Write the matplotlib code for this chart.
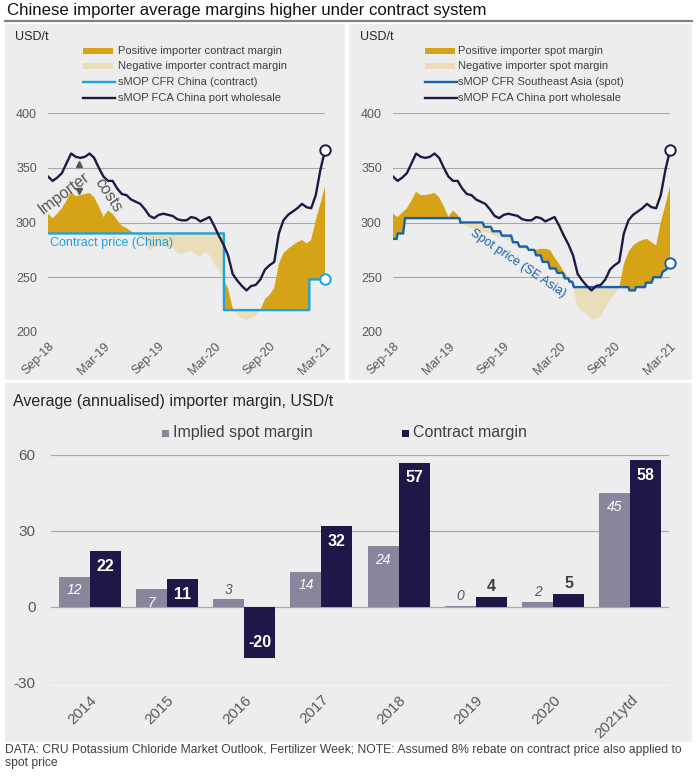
import numpy as np
import matplotlib
matplotlib.use("Agg")
import matplotlib.pyplot as plt
from matplotlib.patches import Rectangle
from matplotlib.lines import Line2D

plt.rcParams['font.family'] = ['Liberation Sans', 'DejaVu Sans']
plt.rcParams['axes.unicode_minus'] = False

# ---------------- data ----------------
# months since Sep-2018, half-monthly readings
month_grid = np.arange(0, 30.5, 0.5)
fca_wholesale = [342, 338, 341, 345, 354, 363, 360, 359, 360, 363, 359, 350, 342, 338, 338, 331,
                 326, 325, 321, 319, 317, 312, 306, 304, 307, 308, 307, 306, 303, 302, 302, 305,
                 304, 301, 303, 305, 297, 288, 280, 270, 253, 247, 242, 238, 242, 243, 248, 257,
                 261, 264, 290, 302, 307, 310, 313, 317, 314, 313, 325, 348, 366]
# wholesale price less importer costs (margin boundary), contract panel
net_contract_panel = [308, 304, 308, 313, 320, 328, 324, 325, 326, 327, 323, 315, 305, 311, 308, 302,
                      297, 295, 292, 289, 287, 284, 274, 277, 279, 280, 276, 277, 272, 271, 273, 274,
                      271, 269, 274, 270, 262, 257, 248, 240, 222, 216, 212, 211, 213, 215, 220, 230,
                      234, 240, 262, 272, 276, 279, 282, 284, 281, 284, 302, 317, 333]
# wholesale price less importer costs, spot panel
net_spot_panel = [308, 305, 309, 313, 320, 328, 325, 325, 326, 327, 323, 315, 305, 311, 307, 300,
                  296, 295, 293, 292, 291, 290, 288, 287, 286, 284, 280, 277, 276, 275, 275, 275,
                  276, 276, 275, 268, 262, 255, 249, 240, 223, 219, 216, 212, 212, 214, 222, 229,
                  235, 240, 262, 273, 279, 282, 284, 285, 282, 279, 300, 316, 333]
contract_months = [0, 19.05, 19.06, 28.3, 28.31, 30]
contract_price = [290, 290, 220, 220, 248, 248]
spot_months = [0, 0.4, 0.5, 1.1, 1.3, 7.2, 7.3, 9.7, 9.9, 10.6, 10.8, 11.6, 11.8, 12.8, 13.0,
               13.5, 13.7, 14.5, 14.7, 15.3, 15.5, 16.0, 16.2, 16.8, 17.0, 17.6, 17.8, 18.4, 18.6,
               19.0, 19.1, 19.4, 19.6, 25.5, 25.6, 26.2, 26.3, 27.3, 27.4, 28.0, 28.2, 29.0, 29.2,
               29.6, 30.0]
spot_price = [285, 285, 290, 290, 304, 304, 300, 300, 296, 296, 292, 292, 288, 288, 282,
              282, 278, 278, 275, 275, 270, 270, 264, 264, 258, 258, 254, 254, 249,
              249, 246, 246, 241, 241, 238, 238, 241, 241, 245, 245, 250, 250, 255,
              257, 263]
date_ticks = [0, 6, 12, 18, 24, 30]
date_labels = ['Sep-18', 'Mar-19', 'Sep-19', 'Mar-20', 'Sep-20', 'Mar-21']
price_ticks = [200, 250, 300, 350, 400]

years = ['2014', '2015', '2016', '2017', '2018', '2019', '2020', '2021ytd']
spot_margin = [12, 7, 3, 14, 24, 0.4, 2, 45]
contract_margin = [22, 11, -20, 32, 57, 4, 5, 58]
margin_ticks = [-30, 0, 30, 60]

# ---------------- styles ----------------
W, H = 698, 778
GOLD = '#D6A317'
TAN = '#EADDBA'
CBLUE = '#1CA3DE'
SBLUE = '#1661AE'
NAVY = '#1D1A47'
BG = '#EDEDED'
GRID = '#A8A8A8'
TXT = '#595959'
LIGHTBAR = '#8A859C'
DARKBAR = '#1E1848'


def fx(px):
    return px / W


def fy(py):
    return 1 - py / H


fig = plt.figure(figsize=(W / 100, H / 100), dpi=100)
fig.patch.set_facecolor('white')

# panel backgrounds
for (x0, y0, x1, y1) in [(5, 24, 345, 380), (349, 24, 692, 380), (5, 383, 692, 742)]:
    fig.add_artist(Rectangle((fx(x0), fy(y1)), (x1 - x0) / W, (y1 - y0) / H,
                             transform=fig.transFigure, facecolor=BG, edgecolor='none', zorder=0))

# title
fig.text(fx(7), fy(10), 'Chinese importer average margins higher under contract system',
         fontsize=12.1, color='#111111', va='center', ha='left')
fig.add_artist(Line2D([fx(5), fx(692)], [fy(20.5), fy(20.5)], transform=fig.transFigure,
                      color='#808080', lw=1.6))

x_fine = np.linspace(0, 30, 3001)


def price_panel(left_px, net, low_m, low_v, low_color, low_end):
    ax = fig.add_axes([fx(left_px), fy(332), 277 / W, 219 / H])
    ax.set_facecolor('none')
    ax.set_xlim(0, 30)
    ax.set_ylim(200, 400)
    for s in ax.spines.values():
        s.set_visible(False)
    ax.set_yticks(price_ticks)
    ax.set_xticks(date_ticks)
    ax.set_xticklabels(date_labels, rotation=45, ha='right', rotation_mode='anchor')
    ax.tick_params(axis='both', length=0, labelsize=9, labelcolor=TXT)
    ax.tick_params(axis='y', pad=8)
    ax.tick_params(axis='x', pad=6)
    ax.grid(axis='y', color=GRID, lw=0.8)
    ax.set_axisbelow(True)
    net_f = np.interp(x_fine, month_grid, net)
    low_f = np.interp(x_fine, low_m, low_v)
    ax.fill_between(x_fine, low_f, net_f, where=net_f >= low_f, interpolate=True,
                    color=GOLD, lw=0, zorder=1)
    ax.fill_between(x_fine, low_f, net_f, where=net_f < low_f, interpolate=True,
                    color=TAN, lw=0, zorder=1)
    ax.plot(low_m, low_v, color=low_color, lw=1.7, zorder=3)
    ax.plot(month_grid, fca_wholesale, color=NAVY, lw=1.7, zorder=4)
    ax.plot([month_grid[-1]], [fca_wholesale[-1]], 'o', ms=7.5, mfc='white', mec=NAVY,
            mew=1.4, zorder=6, clip_on=False)
    ax.plot([low_m[-1]], [low_end], 'o', ms=7.5, mfc='white', mec=low_color,
            mew=1.4, zorder=6, clip_on=False)
    return ax


ax1 = price_panel(48, net_contract_panel, contract_months, contract_price, CBLUE, contract_price[-1])
ax2 = price_panel(393, net_spot_panel, spot_months, spot_price, SBLUE, spot_price[-1])

# annotations left
ax1.text(0.2, 281, 'Contract price (China)', color=CBLUE, fontsize=9, ha='left', va='center', zorder=5)
ax1.text(1.75, 327, 'Importer', color='#555555', fontsize=11.5, rotation=37,
         ha='center', va='center', zorder=5)
ax1.text(6.5, 325, 'costs', color='#555555', fontsize=11.5, rotation=-57,
         ha='center', va='center', zorder=5)
ax1.plot([3.39], [353.5], marker='^', ms=5, color='#555555', zorder=5)
ax1.plot([3.39], [329], marker='v', ms=5, color='#555555', zorder=5)
# annotation right
ax2.text(13.5, 262.7, 'Spot price (SE Asia)', color=SBLUE, fontsize=9, rotation=-34,
         ha='center', va='center', zorder=5)

# USD/t labels
fig.text(fx(15), fy(37), 'USD/t', fontsize=9, color='#262626', va='center')
fig.text(fx(360), fy(37), 'USD/t', fontsize=9, color='#262626', va='center')


def legend_block(hx0, hx1, tx, items):
    rows = [51, 66, 82, 98]
    for (kind, color, label), ry in zip(items, rows):
        if kind == 'patch':
            fig.add_artist(Rectangle((fx(hx0), fy(ry + 2.8)), (hx1 - hx0) / W, 5.6 / H,
                                     transform=fig.transFigure, facecolor=color,
                                     edgecolor='none', zorder=3))
        else:
            fig.add_artist(Line2D([fx(hx0), fx(hx1 + 2)], [fy(ry), fy(ry)],
                                  transform=fig.transFigure, color=color, lw=1.7, zorder=3))
        fig.text(fx(tx), fy(ry), label, fontsize=8, color='#404040', va='center', ha='left')


legend_block(83, 113, 118, [('patch', GOLD, 'Positive importer contract margin'),
                            ('patch', TAN, 'Negative importer contract margin'),
                            ('line', CBLUE, 'sMOP CFR China (contract)'),
                            ('line', NAVY, 'sMOP FCA China port wholesale')])
legend_block(425, 455, 458, [('patch', GOLD, 'Positive importer spot margin'),
                             ('patch', TAN, 'Negative importer spot margin'),
                             ('line', SBLUE, 'sMOP CFR Southeast Asia (spot)'),
                             ('line', NAVY, 'sMOP FCA China port wholesale')])

# ---------------- bottom bar chart ----------------
ax3 = fig.add_axes([fx(51), fy(683), 618 / W, 228 / H])
ax3.set_facecolor('none')
ax3.set_xlim(-0.5, 7.5)
ax3.set_ylim(-30, 60)
for s in ax3.spines.values():
    s.set_visible(False)
ax3.set_yticks(margin_ticks)
ax3.grid(axis='y', color=GRID, lw=0.9)
ax3.set_axisbelow(True)
xpos = np.arange(len(years))
ax3.bar(xpos - 0.2, spot_margin, width=0.4, color=LIGHTBAR, zorder=2)
ax3.bar(xpos + 0.2, contract_margin, width=0.4, color=DARKBAR, zorder=2)
ax3.set_xticks(xpos)
ax3.set_xticklabels(years, rotation=45, ha='right', rotation_mode='anchor')
ax3.tick_params(axis='both', length=0, labelsize=11, labelcolor=TXT)
ax3.tick_params(axis='y', pad=11)
ax3.tick_params(axis='x', pad=7)

for x, v in zip(xpos, spot_margin):
    lab = f'{v:.0f}'
    if abs(v) >= 6:
        ax3.annotate(lab, (x - 0.2, v), xytext=(0, -10), textcoords='offset points',
                     ha='center', va='center', color='white', fontsize=10, style='italic', zorder=4)
    else:
        ax3.annotate(lab, (x - 0.2, v), xytext=(0, 7), textcoords='offset points',
                     ha='center', va='center', color=TXT, fontsize=10, style='italic', zorder=4)
for x, v in zip(xpos, contract_margin):
    lab = f'{v:.0f}'
    if abs(v) >= 6:
        off = -11 if v > 0 else 11
        ax3.annotate(lab, (x + 0.2, v), xytext=(0, off), textcoords='offset points',
                     ha='center', va='center', color='white', fontsize=11.5, fontweight='bold', zorder=4)
    else:
        ax3.annotate(lab, (x + 0.2, v), xytext=(0, 7.5), textcoords='offset points',
                     ha='center', va='center', color='#404040', fontsize=11.5, fontweight='bold', zorder=4)

fig.text(fx(13), fy(401), 'Average (annualised) importer margin, USD/t', fontsize=11.5,
         color='#262626', va='center', ha='left')
# bar legend
for sx, color, label in [(162, LIGHTBAR, 'Implied spot margin'), (402, DARKBAR, 'Contract margin')]:
    fig.add_artist(Rectangle((fx(sx), fy(437)), 7 / W, 7 / H, transform=fig.transFigure,
                             facecolor=color, edgecolor='none', zorder=3))
    fig.text(fx(sx + 11), fy(433), label, fontsize=11.5, color='#404040', va='center', ha='left')

# footer
fig.text(fx(5), fy(750), 'DATA: CRU Potassium Chloride Market Outlook, Fertilizer Week; NOTE: Assumed 8% '
         'rebate on contract price also applied to', fontsize=8.7, color='#404040', va='center')
fig.text(fx(5), fy(763), 'spot price', fontsize=8.7, color='#404040', va='center')

fig.savefig('out.png', dpi=100, facecolor='white')
